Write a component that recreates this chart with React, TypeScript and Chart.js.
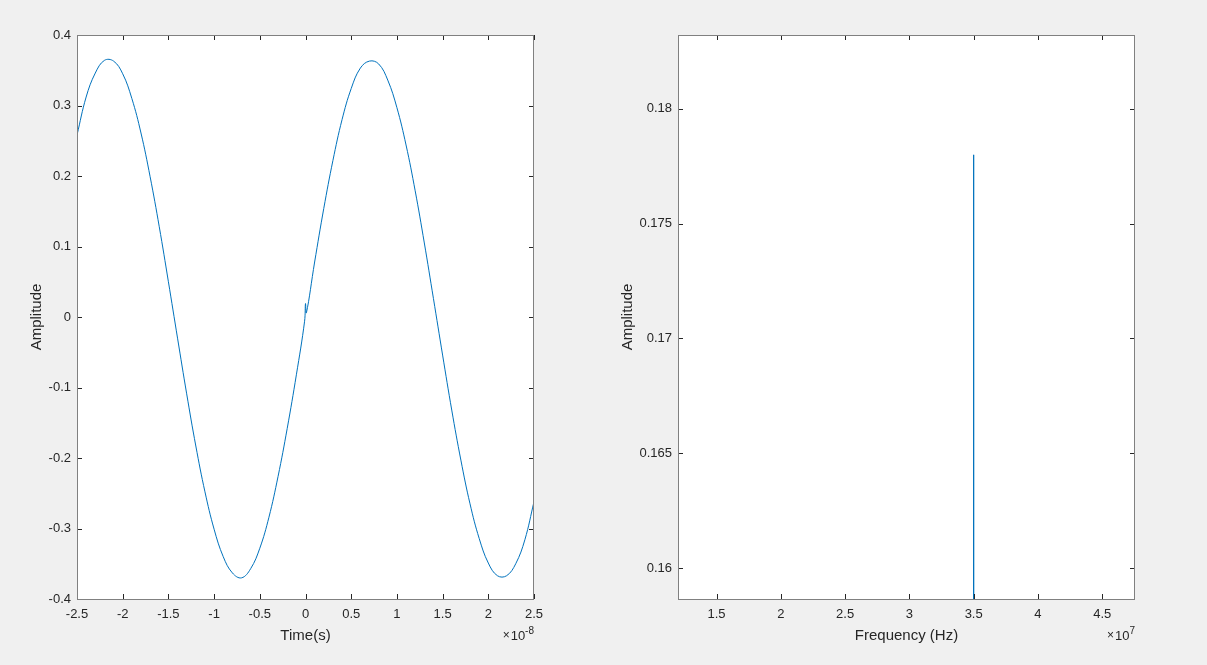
import React, { useEffect, useRef } from 'react';
import { Chart, ChartOptions, Plugin, registerables } from 'chart.js';

Chart.register(...registerables);

// Сигнал во времени (время в единицах 1e-8 с)
const timeE8 = [
    -2.5, -2.4, -2.3, -2.2, -2.1, -2.0, -1.9, -1.8, -1.7, -1.6, -1.5, -1.4, -1.3, -1.2, -1.1, -1.0,
    -0.9, -0.8, -0.7, -0.6, -0.5, -0.4, -0.3, -0.2, -0.1, -0.01, 0, 0.01, 0.1, 0.2, 0.3, 0.4, 0.5,
    0.6, 0.7, 0.8, 0.9, 1.0, 1.1, 1.2, 1.3, 1.4, 1.5, 1.6, 1.7, 1.8, 1.9, 2.0, 2.1, 2.2, 2.3, 2.4, 2.5,
];
const amplitude = [
    0.258, 0.312, 0.346, 0.364, 0.363, 0.345, 0.31, 0.261, 0.199, 0.128, 0.05, -0.03, -0.109, -0.183,
    -0.248, -0.301, -0.34, -0.363, -0.37, -0.357, -0.328, -0.284, -0.226, -0.158, -0.082, -0.006,
    0.019, 0.006, 0.078, 0.154, 0.222, 0.28, 0.324, 0.353, 0.363, 0.359, 0.336, 0.297, 0.244, 0.179,
    0.105, 0.026, -0.054, -0.132, -0.203, -0.265, -0.314, -0.349, -0.367, -0.367, -0.35, -0.316, -0.262,
];
const timeTicks = [-2.5, -2, -1.5, -1, -0.5, 0, 0.5, 1, 1.5, 2, 2.5];
const ampTicks = [-0.4, -0.3, -0.2, -0.1, 0, 0.1, 0.2, 0.3, 0.4];

// Спектр (частота в единицах 1e7 Гц)
const freqE7 = [3.49, 3.5, 3.51];
const spectrum = [0.001, 0.178, 0.001];
const freqTicks = [1.5, 2, 2.5, 3, 3.5, 4, 4.5];
const specTicks = [0.16, 0.165, 0.17, 0.175, 0.18];

const FONT = '"Liberation Sans", Arial, Helvetica, sans-serif';
const TEXT = '#262626';
const LINE = '#0072bd';

interface PlotProps {
    xs: number[];
    ys: number[];
    xTicks: number[];
    yTicks: number[];
    xMin: number;
    xMax: number;
    yMin: number;
    yMax: number;
    xTitle: string;
    exponent: string;
    tension: number;
    /* размеры зоны осей внутри холста */
    yAxisWidth: number;
    rightPad: number;
    yTitleOffset: number;
}

// Рамка, внутренние засечки и множитель оси X как в MATLAB
const matlabAxes = (exponent: string): Plugin<'line'> => ({
    id: 'matlabAxes',
    beforeDraw: (chart) => {
        const { ctx, chartArea } = chart;
        ctx.save();
        ctx.fillStyle = '#ffffff';
        ctx.fillRect(chartArea.left, chartArea.top, chartArea.right - chartArea.left, chartArea.bottom - chartArea.top);
        ctx.restore();
    },
    afterDraw: (chart) => {
        const { ctx, chartArea, scales } = chart;
        const { left, right, top, bottom } = chartArea;
        ctx.save();
        ctx.lineWidth = 1;
        ctx.strokeStyle = TEXT;
        ctx.beginPath();
        scales.x.ticks.forEach((t) => {
            const px = Math.round(scales.x.getPixelForValue(t.value)) + 0.5;
            ctx.moveTo(px, bottom);
            ctx.lineTo(px, bottom - 5);
            ctx.moveTo(px, top);
            ctx.lineTo(px, top + 5);
        });
        scales.y.ticks.forEach((t) => {
            const py = Math.round(scales.y.getPixelForValue(t.value)) + 0.5;
            ctx.moveTo(left, py);
            ctx.lineTo(left + 5, py);
            ctx.moveTo(right, py);
            ctx.lineTo(right - 5, py);
        });
        ctx.stroke();

        ctx.strokeStyle = '#808080';
        ctx.strokeRect(Math.round(left) + 0.5, Math.round(top) + 0.5, Math.round(right - left) - 1, Math.round(bottom - top));

        // ×10^n
        ctx.fillStyle = TEXT;
        ctx.textBaseline = 'alphabetic';
        ctx.textAlign = 'left';
        ctx.font = `10px ${FONT}`;
        const supW = ctx.measureText(exponent).width;
        ctx.font = `13px ${FONT}`;
        const tenW = ctx.measureText('10').width;
        ctx.font = `12px ${FONT}`;
        const timesW = ctx.measureText('×').width;
        let x = right - supW;
        ctx.font = `10px ${FONT}`;
        ctx.fillText(exponent, x, bottom + 35);
        x -= tenW;
        ctx.font = `13px ${FONT}`;
        ctx.fillText('10', x, bottom + 41);
        x -= timesW + 1;
        ctx.font = `12px ${FONT}`;
        ctx.fillText('×', x, bottom + 40);
        ctx.restore();
    },
});

const MatlabPlot: React.FC<PlotProps> = (p) => {
    const chartRef = useRef<HTMLCanvasElement | null>(null);

    useEffect(() => {
        if (!chartRef?.current) return;

        const chartInstance = Chart?.getChart(chartRef?.current);
        if (chartInstance) {
            chartInstance?.destroy();
        }

        const newChart = new Chart(chartRef.current, {
            type: 'line',
            data: {
                datasets: [
                    {
                        data: p.xs.map((x, i) => ({ x, y: p.ys[i] })),
                        borderColor: LINE,
                        borderWidth: 1,
                        pointRadius: 0,
                        fill: false,
                        tension: p.tension,
                    },
                ],
            },
            options: {
                animation: false,
                responsive: true,
                maintainAspectRatio: false,
                layout: { padding: { top: 35, right: p.rightPad, left: 0, bottom: 0 } },
                plugins: {
                    legend: { display: false },
                    tooltip: { enabled: false },
                },
                scales: {
                    x: {
                        type: 'linear',
                        min: p.xMin,
                        max: p.xMax,
                        grid: { display: false, drawTicks: false },
                        border: { display: false },
                        afterBuildTicks: (scale) => {
                            scale.ticks = p.xTicks.map((value) => ({ value }));
                        },
                        afterFit: (scale) => {
                            scale.height = 66;
                        },
                        ticks: {
                            padding: 8,
                            maxRotation: 0,
                            autoSkip: false,
                            color: TEXT,
                            font: { family: FONT, size: 13 },
                            callback: (value) => String(value),
                        },
                        title: {
                            display: true,
                            text: p.xTitle,
                            color: TEXT,
                            font: { family: FONT, size: 15 },
                            padding: { top: 0, bottom: 20 },
                        },
                    },
                    y: {
                        type: 'linear',
                        min: p.yMin,
                        max: p.yMax,
                        grid: { display: false, drawTicks: false },
                        border: { display: false },
                        afterBuildTicks: (scale) => {
                            scale.ticks = p.yTicks.map((value) => ({ value }));
                        },
                        afterFit: (scale) => {
                            scale.width = p.yAxisWidth;
                        },
                        ticks: {
                            padding: 6,
                            autoSkip: false,
                            color: TEXT,
                            font: { family: FONT, size: 13 },
                            callback: (value) => String(value),
                        },
                        title: {
                            display: true,
                            text: 'Amplitude',
                            color: TEXT,
                            font: { family: FONT, size: 15 },
                            padding: { top: p.yTitleOffset, bottom: 0 },
                        },
                    },
                },
            } as ChartOptions<'line'>,
            plugins: [matlabAxes(p.exponent)],
        });

        return () => {
            newChart?.destroy();
        };
    }, [p]);

    return <canvas ref={chartRef} />;
};

const leftPlot: PlotProps = {
    xs: timeE8,
    ys: amplitude,
    xTicks: timeTicks,
    yTicks: ampTicks,
    xMin: -2.5,
    xMax: 2.5,
    yMin: -0.4,
    yMax: 0.4,
    xTitle: 'Time(s)',
    exponent: '-8',
    tension: 0.4,
    yAxisWidth: 77,
    rightPad: 69,
    yTitleOffset: 28,
};

const rightPlot: PlotProps = {
    xs: freqE7,
    ys: spectrum,
    xTicks: freqTicks,
    yTicks: specTicks,
    xMin: 1.2,
    xMax: 4.755,
    yMin: 0.15865,
    yMax: 0.18322,
    xTitle: 'Frequency (Hz)',
    exponent: '7',
    tension: 0,
    yAxisWidth: 75,
    rightPad: 72,
    yTitleOffset: 16,
};

const App: React.FC = () => (
    <div style={{ position: 'fixed', left: 0, top: 0, width: 1207, height: 665, background: '#f0f0f0' }}>
        <div style={{ position: 'absolute', left: 0, top: 0, width: 603, height: 665 }}>
            <MatlabPlot {...leftPlot} />
        </div>
        <div style={{ position: 'absolute', left: 603, top: 0, width: 604, height: 665 }}>
            <MatlabPlot {...rightPlot} />
        </div>
    </div>
);

export default App;
